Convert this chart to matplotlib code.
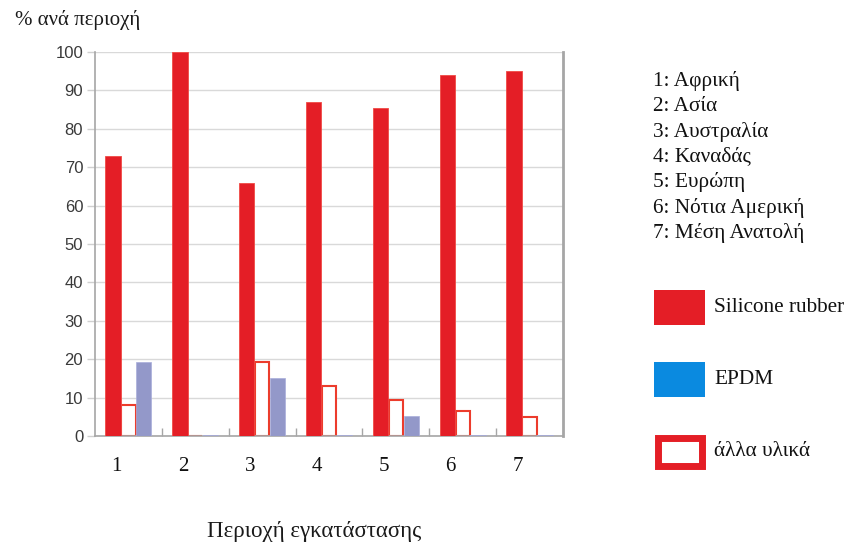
import matplotlib
matplotlib.use("Agg")
import matplotlib.pyplot as plt
from matplotlib.patches import Rectangle
import numpy as np

# Share of insulator material per installation region (%)
regions = ["1", "2", "3", "4", "5", "6", "7"]
region_names = ["1: Αφρική", "2: Ασία", "3: Αυστραλία", "4: Καναδάς",
                "5: Ευρώπη", "6: Νότια Αμερική", "7: Μέση Ανατολή"]
silicone = [73, 100, 66, 87, 85.5, 94, 95]
other = [8.2, 0, 19.3, 13, 9.4, 6.5, 5.0]
epdm = [19.3, 0.3, 15.2, 0.3, 5.3, 0.2, 0.3]
series_labels = ["Silicone rubber", "EPDM", "άλλα υλικά"]

RED = "#e41e26"
LAVENDER = "#9398c9"
EDGE = "#ec3c2c"
LEGEND_BLUE = "#0a8ae0"
SERIF = "Liberation Serif"
SANS = "Liberation Sans"

W, H = 849, 547
fig = plt.figure(figsize=(W / 100, H / 100), dpi=100)
ax = fig.add_axes([0.1119, 0.2029, 0.5512, 0.7021])

x = np.arange(1, len(regions) + 1)
w = 0.23
ax.bar(x - w, silicone, width=w, color=RED, edgecolor="#f04a45", linewidth=0.6, zorder=3)
ax.bar(x, other, width=w * 0.92, color="white", edgecolor=EDGE, linewidth=1.5, zorder=2)
ax.bar(x + w, epdm, width=w, color=LAVENDER, edgecolor="#a9addb", linewidth=0.5, zorder=3)

ax.set_xlim(0.5, len(regions) + 0.5)
ax.set_ylim(0, 100)
ax.set_yticks(np.arange(0, 101, 10))
ax.yaxis.grid(True, color="#d9d9d9", linewidth=1.0, zorder=0)
ax.set_axisbelow(True)

for s in ["left", "bottom", "right"]:
    ax.spines[s].set_color("#a6a6a6")
    ax.spines[s].set_linewidth(1.2)
ax.spines["right"].set_linewidth(2.0)
ax.spines["top"].set_visible(False)

ax.tick_params(axis="y", direction="out", length=6, width=1.0, color="#d0d0d0",
               labelsize=12, labelcolor="#3a3a3a", pad=2.5)
for lbl in ax.get_yticklabels():
    lbl.set_fontfamily(SANS)

ax.set_xticks(x - 0.18)
ax.set_xticklabels(regions, fontfamily=SERIF, fontsize=15, color="#111111")
ax.tick_params(axis="x", length=0, pad=15)
ax.set_xticks(np.arange(1.5, len(regions) + 0.5, 1), minor=True)
ax.tick_params(axis="x", which="minor", direction="in", length=6, color="#a6a6a6", width=1)

fig.text(0.018, 0.963, "% ανά περιοχή", fontfamily=SERIF, fontsize=15,
         color="#1a1a1a", va="center", ha="left")
fig.text(314 / W, 1 - 532 / H, "Περιοχή εγκατάστασης", fontfamily=SERIF, fontsize=16.5,
         color="#1a1a1a", va="center", ha="center")

# Region key
for i, name in enumerate(region_names):
    fig.text(653 / W, 1 - (81 + i * 25.3) / H, name, fontfamily=SERIF,
             fontsize=15.3, color="#111111", va="center", ha="left")

# Series key
def swatch(x0, y0, x1, y1, **style):
    fig.patches.append(Rectangle((x0 / W, 1 - y1 / H), (x1 - x0) / W, (y1 - y0) / H,
                                 transform=fig.transFigure, **style))

swatch(654, 290, 705, 325, facecolor=RED, edgecolor="none")
swatch(654, 362, 705, 397, facecolor=LEGEND_BLUE, edgecolor="none")
swatch(657.5, 437.5, 701.5, 465.5, facecolor="white", edgecolor=RED, linewidth=5.0)

for yc, label in zip([308, 380, 452], series_labels):
    fig.text(714 / W, 1 - yc / H, label, fontfamily=SERIF,
             fontsize=15.3, color="#111111", va="center", ha="left")

fig.savefig("out.png", dpi=100)
